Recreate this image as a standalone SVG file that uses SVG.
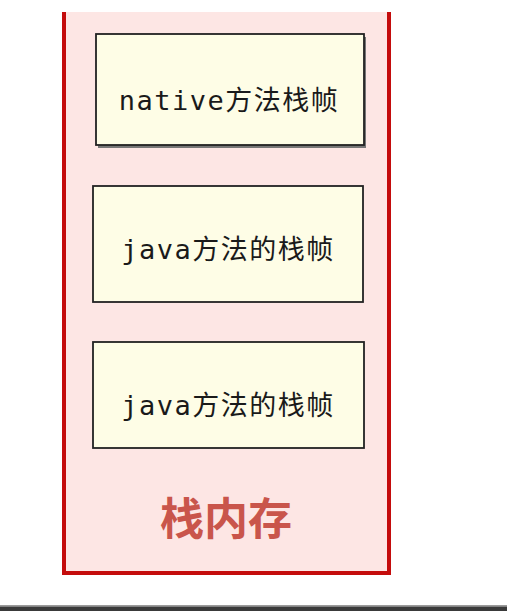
<svg xmlns="http://www.w3.org/2000/svg" width="507" height="611" viewBox="0 0 507 611">
<style>
.frame{fill:#fde6e4;stroke:none}
.edge{fill:none;stroke:#c40c0c;stroke-width:4}
.box{fill:#fefde6;stroke:#222;stroke-width:1.8}
.shadow{fill:#777}
.t{font-family:"DejaVu Sans Mono","Noto Sans CJK SC",monospace;font-size:27px;letter-spacing:1.5px;fill:#1a1a1a;text-anchor:middle}
.title{font-family:"Noto Sans CJK SC",sans-serif;font-weight:bold;font-size:44px;fill:#c9554b;text-anchor:middle}
</style>
<rect width="507" height="611" fill="#ffffff"/>
<g id="stack-memory">
<rect class="frame" x="64" y="12" width="325" height="561"/>
<path class="edge" d="M64 12 V573 H389 V12"/>
<text class="title" x="226" y="535">栈内存</text>
</g>
<g id="native-frame">
<rect class="shadow" x="98" y="37" width="268" height="111"/>
<rect class="box" x="96" y="34" width="268" height="111"/>
<text class="t" x="229" y="110">native方法栈帧</text>
</g>
<g id="java-frame-1">
<rect class="box" x="93" y="186" width="270" height="116"/>
<text class="t" x="228" y="259">java方法的栈帧</text>
</g>
<g id="java-frame-2">
<rect class="box" x="93" y="342" width="271" height="106"/>
<text class="t" x="228" y="415">java方法的栈帧</text>
</g>
<g id="connectors"></g>
<rect x="0" y="605" width="507" height="1.5" fill="#9a9a9a"/>
<rect x="0" y="606.5" width="507" height="4.5" fill="#3a3a3a"/>
</svg>
